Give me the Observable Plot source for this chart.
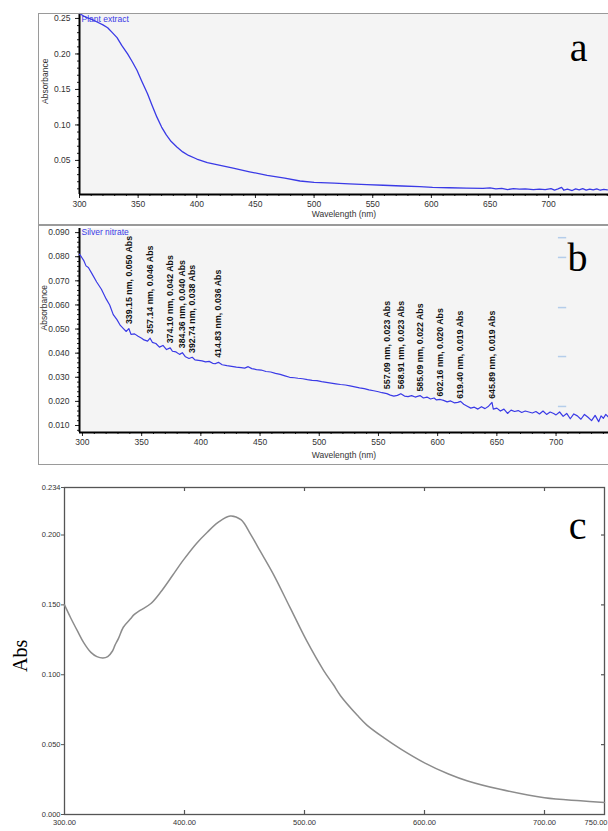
<!DOCTYPE html>
<html><head><meta charset="utf-8">
<script src="https://cdn.jsdelivr.net/npm/d3@7"></script>
<script src="https://cdn.jsdelivr.net/npm/@observablehq/plot@0.6"></script>
<style>
html,body{margin:0;padding:0;background:#fff;}
#wrap{position:relative;width:608px;height:831px;overflow:hidden;background:#fff;}
.panel{position:absolute;left:0;}
.panel svg{display:block;overflow:visible;}
.box{position:absolute;border:1px solid #9a9a9a;border-right:none;pointer-events:none;}
</style></head><body><div id="wrap"></div>
<script>
// ---------- Panel a: Plant extract ----------
const aWave = [300,305,310,315,320,324,328,332,336,341,345,349,353,358,362,366,370,374,378,383,388,393,400,409,420,431,445,460,475,488,500,517,530,545,559,575,590,601,615,630,644,650,655,660,665,670,675,680,687,692,697,702,705,708,711,713,716,720,723,726,729,732,735,738,741,744,747,750];
const aAbs  = [0.257,0.252,0.249,0.245,0.241,0.237,0.230,0.223,0.212,0.200,0.189,0.177,0.162,0.144,0.127,0.111,0.097,0.086,0.077,0.069,0.062,0.057,0.052,0.047,0.043,0.039,0.034,0.029,0.025,0.021,0.019,0.018,0.017,0.016,0.015,0.014,0.013,0.012,0.0115,0.011,0.0106,0.0112,0.0098,0.0106,0.0090,0.0102,0.0096,0.0100,0.0090,0.0096,0.0088,0.0104,0.0082,0.0098,0.0120,0.0080,0.0094,0.0076,0.0100,0.0086,0.0104,0.0082,0.0096,0.0084,0.0098,0.0080,0.0092,0.0086];
const aXDomain = [300, 751];
const aYDomain = [0.002, 0.257];
const aXTicks = [300,350,400,450,500,550,600,650,700];
const aYTicks = [0.05,0.10,0.15,0.20,0.25];

// ---------- Panel b: Silver nitrate ----------
const bWave = [297.5,299,301,303,305,308,312,316,320,323,326,329,332,335,337,339.15,341,344,347,350,352,355,357.14,359,362,365,368,371,374.10,376,379,382,384.36,387,390,392.74,395,398,401,404,407,410,412,414.83,418,422,426,430,434,437,440,443,447,451,455,459,463,467,471,475,479,482,486,490,494,498,502,506,510,514,518,522,526,530,534,538,542,546,550,553,557.09,560,563,566,568.91,572,575,578,581,585.09,588,591,594,597,599,602.16,605,608,611,614,617,619.40,622,625,628,631,634,637,640,643,645.89,647,650,653,656,659,662,665,668,671,674,677,680,683,686,689,692,695,698,700,703,706,709,712,715,718,721,724,727,730,733,736,738,740,742,744];
const bAbs  = [0.0810,0.0800,0.0785,0.0762,0.0755,0.0730,0.0695,0.0665,0.0625,0.0600,0.0560,0.0540,0.0515,0.0500,0.0490,0.0502,0.0478,0.0480,0.0470,0.0462,0.0455,0.0450,0.0462,0.0445,0.0440,0.0425,0.0432,0.0415,0.0422,0.0408,0.0405,0.0395,0.0402,0.0385,0.0378,0.0383,0.0372,0.0370,0.0368,0.0364,0.0366,0.0358,0.0356,0.0362,0.0352,0.0348,0.0345,0.0342,0.0340,0.0338,0.0344,0.0336,0.0332,0.0330,0.0324,0.0322,0.0316,0.0312,0.0306,0.0300,0.0298,0.0296,0.0294,0.0290,0.0287,0.0286,0.0282,0.0279,0.0276,0.0273,0.0270,0.0268,0.0264,0.0260,0.0256,0.0253,0.0248,0.0244,0.0240,0.0236,0.0232,0.0226,0.0222,0.0225,0.0232,0.0222,0.0220,0.0224,0.0218,0.0224,0.0214,0.0218,0.0210,0.0214,0.0206,0.0208,0.0204,0.0198,0.0202,0.0194,0.0196,0.0200,0.0188,0.0180,0.0172,0.0176,0.0168,0.0178,0.0170,0.0180,0.0196,0.0168,0.0172,0.0160,0.0168,0.0150,0.0164,0.0158,0.0162,0.0154,0.0160,0.0156,0.0152,0.0158,0.0148,0.0160,0.0146,0.0156,0.0150,0.0144,0.0156,0.0138,0.0150,0.0128,0.0148,0.0140,0.0126,0.0146,0.0134,0.0120,0.0142,0.0116,0.0140,0.0130,0.0146,0.0136];
const bPeakWave = [339.15,357.14,374.10,384.36,392.74,414.83,557.09,568.91,585.09,602.16,619.40,645.89];
const bPeakAbs  = [0.050,0.046,0.042,0.040,0.038,0.036,0.023,0.023,0.022,0.020,0.019,0.019];
const bXDomain = [297.5, 744.3];
const bYDomain = [0.0071, 0.0917];
const bXTicks = [300,350,400,450,500,550,600,650,700];
const bYTicks = [0.010,0.020,0.030,0.040,0.050,0.060,0.070,0.080,0.090];
const bSideMarks = [0.0879,0.0797,0.0589,0.0386,0.0179];
const bSideSpan = [702, 709];

// ---------- Panel c: nanoparticles ----------
const cWave = [300,305,311,316,322,327,332,336,340,342,345,349,355,358,363,372,380,390,399,410,419,428,438,447,455,463,474,488,502,516,524,530,544,552,566,580,600,620,636,663,700,730,750];
const cAbs  = [0.150,0.141,0.131,0.123,0.116,0.113,0.112,0.113,0.117,0.121,0.126,0.134,0.140,0.143,0.146,0.151,0.159,0.171,0.182,0.194,0.202,0.209,0.2136,0.211,0.2007,0.1886,0.172,0.148,0.124,0.103,0.093,0.085,0.071,0.064,0.055,0.047,0.037,0.029,0.024,0.018,0.012,0.0098,0.0086];
const cXDomain = [300, 750];
const cYDomain = [0, 0.234];
const cXTicks = [300,400,500,600,700];
const cXLast = [750];
const cXInner = [400,500,600,700];
const cYTicks = [0,0.050,0.100,0.150,0.200,0.234];
const cYInner = [0.050,0.100,0.150,0.200];

const BLUE = "#3a3ae6";
const SANS = "'Liberation Sans', Arial, sans-serif";
const SERIF = "'Liberation Serif', 'Times New Roman', serif";
const wrap = document.getElementById("wrap");

function place(el, top) {
  const d = document.createElement("div");
  d.className = "panel";
  d.style.top = top + "px";
  d.appendChild(el);
  wrap.appendChild(d);
}
function box(top, height) {
  const d = document.createElement("div");
  d.className = "box";
  d.style.left = "38px"; d.style.top = top + "px";
  d.style.width = "600px"; d.style.height = height + "px";
  wrap.appendChild(d);
}

// Panel a
const aData = aWave.map((x, i) => ({x, y: aAbs[i]}));
const plotA = Plot.plot({
  width: 608, height: 211,
  marginLeft: 79, marginRight: 0, marginTop: 0, marginBottom: 30,
  style: {fontFamily: SANS, fontSize: "8.5px", color: "#333", background: "transparent"},
  x: {domain: aXDomain},
  y: {domain: aYDomain},
  marks: [
    Plot.frame({fill: "#f4f4f4", stroke: null}),
    Plot.axisX({ticks: d3.range(300, 751, 10), tickSize: 2, text: null, label: null, stroke: "#222"}),
    Plot.axisX({ticks: aXTicks, tickSize: 4, tickPadding: 2, tickFormat: d => String(d), label: null, stroke: "#222", fill: "#333"}),
    Plot.axisY({ticks: d3.range(0.01, 0.257, 0.01), tickSize: 2, text: null, label: null, stroke: "#222"}),
    Plot.axisY({ticks: aYTicks, tickSize: 4, tickPadding: 5, tickFormat: d => d.toFixed(2), label: null, stroke: "#222", fill: "#333"}),
    Plot.ruleX(aXDomain.slice(0, 1), {stroke: "#000", strokeWidth: 2}),
    Plot.ruleY(aYDomain.slice(0, 1), {stroke: "#000", strokeWidth: 2}),
    Plot.line(aData, {x: "x", y: "y", stroke: BLUE, strokeWidth: 1.3}),
    Plot.text(["Plant extract"], {text: d => d, frameAnchor: "top-left", dx: 2, dy: 2, lineAnchor: "top", textAnchor: "start", fill: BLUE, fontSize: 8.5}),
    Plot.text(["Absorbance"], {text: d => d, frameAnchor: "left", rotate: -90, dx: -34, fill: "#333", fontSize: 8.5}),
    Plot.text(["Wavelength (nm)"], {text: d => d, frameAnchor: "bottom", dy: 22, fill: "#333", fontSize: 8.5}),
    Plot.text(["a"], {text: d => d, frameAnchor: "top-right", dx: -21, dy: 47, lineAnchor: "bottom", textAnchor: "end", fontFamily: SERIF, fontSize: 40, fill: "#000"})
  ]
});
place(plotA, 13);
box(13, 210);

// Panel b
const bData = bWave.map((x, i) => ({x, y: bAbs[i]}));
const bPeaks = bPeakWave.map((x, i) => ({x, y: bPeakAbs[i], label: `${x.toFixed(2)} nm, ${bPeakAbs[i].toFixed(3)} Abs`}));
const plotB = Plot.plot({
  width: 608, height: 239,
  marginLeft: 79, marginRight: 0, marginTop: 3, marginBottom: 32,
  style: {fontFamily: SANS, fontSize: "8.5px", color: "#333", background: "transparent"},
  x: {domain: bXDomain},
  y: {domain: bYDomain},
  marks: [
    Plot.frame({fill: "#f4f4f4", stroke: null}),
    Plot.ruleY(bSideMarks, {x1: bSideSpan[0], x2: bSideSpan[1], stroke: "#b4cdea", strokeWidth: 1.5}),
    Plot.axisX({ticks: d3.range(300, 745, 10), tickSize: 2, text: null, label: null, stroke: "#222"}),
    Plot.axisX({ticks: bXTicks, tickSize: 4, tickPadding: 2, tickFormat: d => String(d), label: null, stroke: "#222", fill: "#333"}),
    Plot.axisY({ticks: d3.range(0.008, 0.0917, 0.002), tickSize: 2, text: null, label: null, stroke: "#222"}),
    Plot.axisY({ticks: bYTicks, tickSize: 4, tickPadding: 6, tickFormat: d => d.toFixed(3), label: null, stroke: "#222", fill: "#333"}),
    Plot.ruleX(bXDomain.slice(0, 1), {stroke: "#000", strokeWidth: 2}),
    Plot.ruleY(bYDomain.slice(0, 1), {stroke: "#000", strokeWidth: 2}),
    Plot.line(bData, {x: "x", y: "y", stroke: BLUE, strokeWidth: 1.2}),
    Plot.text(["Silver nitrate"], {text: d => d, frameAnchor: "top-left", dx: 2, dy: 0, lineAnchor: "top", textAnchor: "start", fill: BLUE, fontSize: 8.5}),
    Plot.text(bPeaks, {x: "x", y: "y", text: "label", rotate: -90, textAnchor: "start", dy: -5, fontSize: 8.8, fontWeight: "bold", fill: "#111"}),
    Plot.text(["Absorbance"], {text: d => d, frameAnchor: "left", rotate: -90, dx: -35, fill: "#333", fontSize: 8.5}),
    Plot.text(["Wavelength (nm)"], {text: d => d, frameAnchor: "bottom", dy: 25, fill: "#333", fontSize: 8.5}),
    Plot.text(["b"], {text: d => d, frameAnchor: "top-right", dx: -21, dy: 42, lineAnchor: "bottom", textAnchor: "end", fontFamily: SERIF, fontSize: 40, fill: "#000"})
  ]
});
place(plotB, 225);
box(225, 238);

// Panel c
const cData = cWave.map((x, i) => ({x, y: cAbs[i]}));
const plotC = Plot.plot({
  width: 608, height: 353,
  marginLeft: 64, marginRight: 4, marginTop: 9, marginBottom: 17,
  style: {fontFamily: SANS, fontSize: "7.5px", color: "#333", background: "transparent"},
  x: {domain: cXDomain},
  y: {domain: cYDomain},
  marks: [
    Plot.frame({stroke: "#555", strokeWidth: 1.3}),
    Plot.axisX({ticks: cXTicks, tickSize: 0, tickPadding: 5, tickFormat: d => d.toFixed(2), label: null, fill: "#333"}),
    Plot.axisX({ticks: cXLast, tickSize: 0, tickPadding: 5, tickFormat: d => d.toFixed(2), label: null, fill: "#333", textAnchor: "end", dx: 3}),
    Plot.axisY({ticks: cYTicks, tickSize: 3, tickPadding: 1, tickFormat: d => d.toFixed(3), label: null, stroke: "#555", fill: "#333"}),
    Plot.tickX(cXInner, {x: d => d, insetTop: 323, stroke: "#555", strokeWidth: 1.2}),
    Plot.tickX(cXInner, {x: d => d, insetBottom: 323, stroke: "#555", strokeWidth: 1.2}),
    Plot.tickY(cYInner, {y: d => d, insetLeft: 537, stroke: "#555", strokeWidth: 1.2}),
    Plot.line(cData, {x: "x", y: "y", stroke: "#8c8c8c", strokeWidth: 1.5, curve: "catmull-rom"}),
    Plot.text(["Abs"], {text: d => d, frameAnchor: "left", rotate: -90, dx: -44, dy: 21, fontFamily: SERIF, fontSize: 20, fill: "#000"}),
    Plot.text(["c"], {text: d => d, frameAnchor: "top-right", dx: -18, dy: 51, lineAnchor: "bottom", textAnchor: "end", fontFamily: SERIF, fontSize: 40, fill: "#000"})
  ]
});
place(plotC, 478);
</script></body></html>
